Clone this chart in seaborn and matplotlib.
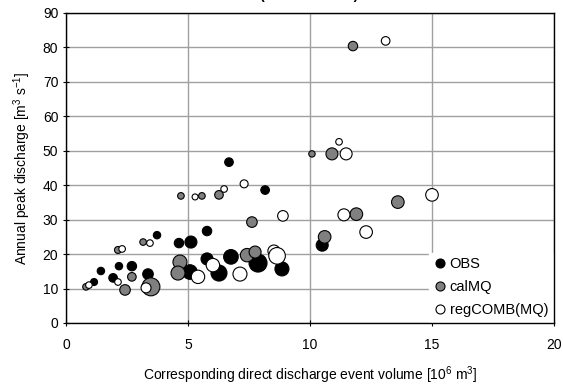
import numpy as np
import pandas as pd
import matplotlib
matplotlib.use("Agg")
import matplotlib.pyplot as plt
from matplotlib.lines import Line2D
import seaborn as sns

# ---------------- data ----------------
obs_x = [6.68, 8.16, 3.73, 5.78, 4.63, 5.12, 1.43, 2.17, 2.70, 3.36, 1.93, 1.15,
         5.08, 5.78, 6.76, 7.87, 8.85, 6.27, 10.50]
obs_y = [46.7, 38.6, 25.5, 26.7, 23.2, 23.5, 15.1, 16.5, 16.5, 14.2, 13.1, 11.9,
         14.8, 18.6, 19.2, 17.4, 15.7, 14.5, 22.6]
obs_mag = [4.3, 4.3, 3.7, 4.7, 4.7, 6.0, 3.7, 3.7, 4.7, 5.3, 4.3, 3.5,
           7.3, 6.0, 7.3, 9.0, 7.0, 8.0, 6.0]

cal_x = [11.76, 10.08, 10.90, 4.71, 5.57, 6.27, 13.60, 7.62, 11.90, 10.60, 3.16,
         2.13, 4.67, 4.59, 2.70, 0.82, 2.42, 3.48, 7.42, 7.75]
cal_y = [80.4, 49.1, 49.1, 36.9, 36.9, 37.2, 35.1, 29.3, 31.6, 25.0, 23.5,
         21.2, 17.7, 14.5, 13.4, 10.5, 9.6, 10.5, 19.7, 20.6]
cal_mag = [4.7, 3.2, 6.0, 3.3, 3.3, 4.3, 6.3, 5.3, 6.3, 6.3, 3.3,
           3.5, 7.0, 7.0, 4.3, 3.3, 5.3, 9.0, 6.7, 6.0]

reg_x = [13.10, 11.19, 11.48, 7.30, 5.29, 6.48, 15.00, 8.89, 11.39, 12.30, 3.44,
         2.30, 2.13, 0.94, 3.28, 5.41, 6.02, 7.13, 8.52, 8.65]
reg_y = [81.9, 52.6, 49.1, 40.4, 36.6, 38.9, 37.2, 31.1, 31.4, 26.4, 23.2,
         21.5, 11.9, 11.0, 10.2, 13.4, 16.8, 14.2, 20.9, 19.5]
reg_mag = [4.3, 3.3, 6.0, 4.0, 3.0, 3.3, 6.3, 5.3, 6.0, 6.3, 3.3,
           3.3, 3.3, 3.3, 5.0, 6.7, 6.7, 7.0, 6.0, 8.3]

series_names = ["OBS", "calMQ", "regCOMB(MQ)"]
x_ticks = [0, 5, 10, 15, 20]
y_ticks = [0, 10, 20, 30, 40, 50, 60, 70, 80, 90]

# ---------------- style ----------------
sns.set_theme(style="white")
plt.rcParams['font.family'] = ['Liberation Sans', 'DejaVu Sans']
plt.rcParams['mathtext.fontset'] = 'custom'
plt.rcParams['mathtext.rm'] = 'Liberation Sans'
plt.rcParams['mathtext.it'] = 'Liberation Sans:italic'
plt.rcParams['mathtext.default'] = 'regular'

colors = {"OBS": "#000000", "calMQ": "#808080", "regCOMB(MQ)": "#ffffff"}

frames = []
for name, xs, ys, ms in zip(series_names, [obs_x, cal_x, reg_x],
                            [obs_y, cal_y, reg_y], [obs_mag, cal_mag, reg_mag]):
    frames.append(pd.DataFrame({"volume": xs, "peak": ys, "series": name, "mag": ms}))
df = pd.concat(frames, ignore_index=True)
df["area"] = (1.44 * df["mag"]) ** 2
amin, amax = df["area"].min(), df["area"].max()

fig = plt.figure(figsize=(5.63, 3.90), dpi=100)
ax = fig.add_axes([66 / 563, 1 - 323 / 390, (554 - 66) / 563, (323 - 13) / 390])

sns.scatterplot(data=df, x="volume", y="peak", hue="series", palette=colors,
                size="area", sizes=(amin, amax), size_norm=(amin, amax),
                edgecolor="black", linewidth=0.8, legend=False, ax=ax, zorder=3)

ax.set_xlim(0, 20)
ax.set_ylim(0, 90)
ax.set_xticks(x_ticks)
ax.set_yticks(y_ticks)
ax.set_axisbelow(True)
ax.grid(True, color="#a0a0a0", linewidth=1.0)
for sp in ax.spines.values():
    sp.set_color("black")
    sp.set_linewidth(1.0)
    sp.set_zorder(6)
ax.tick_params(axis="both", direction="inout", length=5, width=0.8, color="black",
               labelsize=10, labelcolor="black", pad=3, bottom=True, left=True)
ax.tick_params(axis="x", pad=8)

ax.set_xlabel("Corresponding direct discharge event volume [10$^{6}$ m$^{3}$]",
              fontsize=10, color="black", labelpad=9)
ax.set_ylabel("Annual peak discharge [m$^{3}$ s$^{-1}$]", fontsize=10,
              color="black", labelpad=7)

handles = [Line2D([0], [0], marker="o", linestyle="none", markersize=6.5,
                  markerfacecolor=colors[n], markeredgecolor="black",
                  markeredgewidth=0.8, label=n) for n in series_names]
leg = ax.legend(handles=handles, loc="lower right", bbox_to_anchor=(1.0, 0.0),
                fontsize=10.5, frameon=True, fancybox=False, framealpha=1,
                facecolor="white", edgecolor="white", borderaxespad=0.1,
                handletextpad=0.15, labelspacing=0.62, handlelength=1.0,
                borderpad=0.3)
for t in leg.get_texts():
    t.set_color("black")

# partially visible title at the very top of the image
fig.text(0.549, 0.995, "(                       )", ha="center", va="bottom",
         fontsize=10, fontweight="bold", color="black")

fig.savefig("out.png", dpi=100, facecolor="white")
